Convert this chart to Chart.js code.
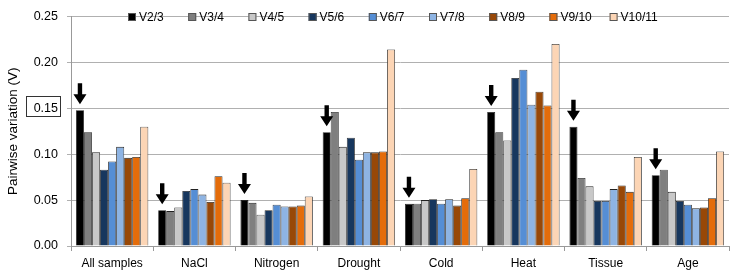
<!DOCTYPE html>
<html>
<head>
<meta charset="utf-8">
<script src="https://cdn.jsdelivr.net/npm/chart.js@4.4.0/dist/chart.umd.min.js"></script>
<style>
  html, body { margin: 0; padding: 0; background: #fff; }
  #wrap { width: 730px; height: 273px; }
</style>
</head>
<body>
<div id="wrap"><canvas id="myChart" width="730" height="273"></canvas></div>
<script>
// categories + series
var categories = ["All samples", "NaCl", "Nitrogen", "Drought", "Cold", "Heat", "Tissue", "Age"];
var seriesNames = ["V2/3", "V3/4", "V4/5", "V5/6", "V6/7", "V7/8", "V8/9", "V9/10", "V10/11"];
var seriesColors = ["#000000", "#7f7f7f", "#c8c8c8", "#17375e", "#558ed5", "#8eb4e3", "#984807", "#e46c0a", "#fcd5b5"];

var v23 = [0.148, 0.039, 0.050, 0.124, 0.046, 0.146, 0.130, 0.077];
var v34 = [0.124, 0.038, 0.047, 0.146, 0.046, 0.124, 0.074, 0.083];
var v45 = [0.102, 0.042, 0.034, 0.108, 0.050, 0.115, 0.065, 0.059];
var v56 = [0.083, 0.060, 0.039, 0.118, 0.051, 0.183, 0.049, 0.049];
var v67 = [0.092, 0.062, 0.045, 0.094, 0.046, 0.192, 0.049, 0.045];
var v78 = [0.108, 0.056, 0.043, 0.102, 0.051, 0.154, 0.062, 0.041];
var v89 = [0.096, 0.048, 0.043, 0.102, 0.044, 0.168, 0.066, 0.042];
var v910 = [0.097, 0.076, 0.044, 0.103, 0.052, 0.153, 0.059, 0.052];
var v1011 = [0.130, 0.069, 0.054, 0.214, 0.084, 0.220, 0.097, 0.103];
var allSeries = [v23, v34, v45, v56, v67, v78, v89, v910, v1011];

var FONT = "'Liberation Sans', Arial, sans-serif";

var datasets = [];
for (let i = 0; i < allSeries.length; i++) {
  datasets.push({
    label: seriesNames[i],
    data: allSeries[i],
    backgroundColor: seriesColors[i],
    borderColor: "#222222",
    borderWidth: 0.8,
    categoryPercentage: 0.88,
    barPercentage: 1.0
  });
}

// legend row inside plot, arrows over first bar of every group, box round 0.15 tick
const extras = {
  id: "extras",
  afterDatasetsDraw(chart) {
    const c = chart.ctx;
    c.save();

    // legend
    c.font = "12px " + FONT;
    c.textBaseline = "middle";
    let lx = 128;
    const ly = 17;
    chart.data.datasets.forEach(ds => {
      c.fillStyle = ds.backgroundColor;
      c.fillRect(lx, ly - 4, 8, 8);
      c.strokeStyle = "#555";
      c.lineWidth = 1;
      c.strokeRect(lx + 0.5, ly - 3.5, 7, 7);
      c.fillStyle = "#000";
      c.fillText(ds.label, lx + 11, ly + 1);
      lx += 60.2;
    });

    // arrows
    const meta = chart.getDatasetMeta(0);
    c.fillStyle = "#000";
    meta.data.forEach(bar => {
      const x = bar.x, tip = bar.y - 6;
      c.beginPath();
      c.moveTo(x - 2.2, tip - 21);
      c.lineTo(x + 2.2, tip - 21);
      c.lineTo(x + 2.2, tip - 10);
      c.lineTo(x + 6.5, tip - 10);
      c.lineTo(x, tip);
      c.lineTo(x - 6.5, tip - 10);
      c.lineTo(x - 2.2, tip - 10);
      c.closePath();
      c.fill();
    });

    // box round 0.15
    const py = chart.scales.y.getPixelForValue(0.15);
    c.strokeStyle = "#333";
    c.lineWidth = 1;
    c.strokeRect(26.5, Math.round(py) - 11.5, 34, 20);
    c.restore();
  }
};

new Chart("myChart", {
  type: "bar",
  data: { labels: categories, datasets: datasets },
  plugins: [extras],
  options: {
    responsive: false,
    animation: false,
    layout: { padding: { top: 6, right: 1, left: 0, bottom: -4 } },
    plugins: {
      legend: { display: false },
      tooltip: { enabled: false }
    },
    scales: {
      x: {
        grid: { display: true, drawOnChartArea: false, tickLength: 5, color: "#999", offset: true },
        border: { color: "#999" },
        ticks: { color: "#000", font: { family: FONT, size: 12, lineHeight: 1.0 }, padding: 7 }
      },
      y: {
        min: 0,
        max: 0.25,
        afterFit(scale) { scale.width = 71; },
        border: { color: "#999" },
        grid: { color: "#b0b0b0", tickLength: 4, borderDash: [3, 2] },
        ticks: {
          stepSize: 0.05,
          color: "#000",
          padding: 9,
          font: { family: FONT, size: 12.5 },
          callback: v => v.toFixed(2)
        },
        title: {
          display: true,
          text: "Pairwise variation (V)",
          color: "#000",
          font: { family: FONT, size: 13.5 },
          padding: { top: 5, bottom: 0 }
        }
      }
    }
  }
});
</script>
</body>
</html>
